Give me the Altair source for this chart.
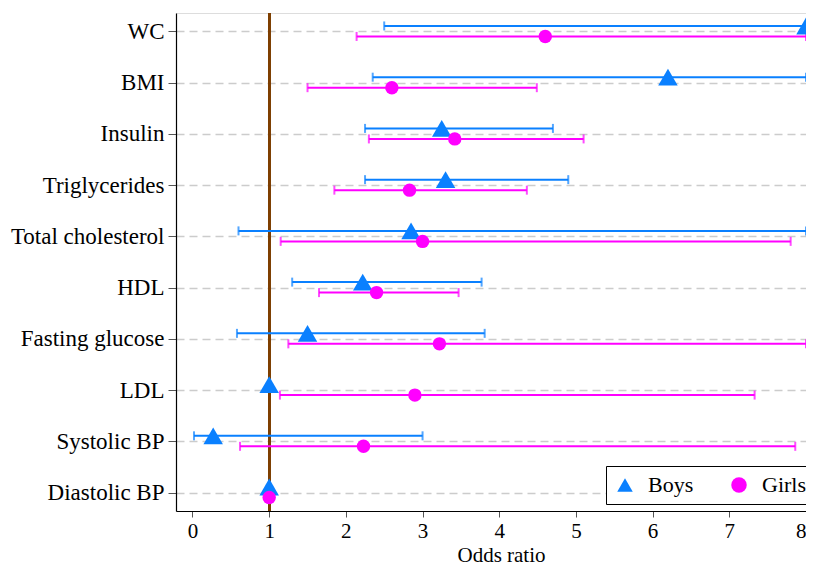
import altair as alt
import pandas as pd

categories = ["WC", "BMI", "Insulin", "Triglycerides", "Total cholesterol", "HDL",
              "Fasting glucose", "LDL", "Systolic BP", "Diastolic BP"]
boys_or = [8.0, 6.2, 3.25, 3.3, 2.85, 2.22, 1.5, 1.0, 0.27, 1.0]
boys_lo = [2.5, 2.35, 2.25, 2.25, 0.6, 1.3, 0.58, None, 0.02, None]
boys_hi = [8.0, 8.0, 4.7, 4.9, 8.0, 3.77, 3.81, None, 3.0, None]
girls_or = [4.6, 2.6, 3.42, 2.83, 3.0, 2.4, 3.22, 2.9, 2.23, 1.0]
girls_lo = [2.14, 1.5, 2.3, 1.85, 1.15, 1.65, 1.25, 1.14, 0.62, None]
girls_hi = [8.0, 4.49, 5.1, 4.36, 7.8, 3.47, 8.0, 7.33, 7.86, None]

groups = ["Boys", "Girls"]
colors = ["#0a80ff", "#ff00ff"]
shapes = ["triangle-up", "circle"]

rows = []
for i, c in enumerate(categories):
    rows.append(dict(cat=c, sex="Boys", est=boys_or[i], lo=boys_lo[i], hi=boys_hi[i]))
    rows.append(dict(cat=c, sex="Girls", est=girls_or[i], lo=girls_lo[i], hi=girls_hi[i]))
df = pd.DataFrame(rows)

FONT = "'Liberation Serif', 'Times New Roman', serif"
xscale = alt.Scale(domain=[-0.215, 8], nice=False, zero=False)
yscale = alt.Scale(type="point", domain=categories, padding=0.36)
cscale = alt.Scale(domain=groups, range=colors)
sscale = alt.Scale(domain=groups, range=shapes)

y_axis = alt.Axis(grid=True, gridDash=[8, 5], gridColor="#cccccc", gridWidth=1.6,
                  tickSize=8, tickColor="#555555", domainColor="#000000",
                  labelFont=FONT, labelFontSize=23, labelColor="#000000",
                  labelPadding=4, domainWidth=1.2)
x_axis = alt.Axis(values=list(range(0, 9)), format="d", grid=False, tickSize=6,
                  tickColor="#555555", domainColor="#000000", domainWidth=1.2,
                  labelFont=FONT, labelFontSize=21, labelColor="#000000",
                  labelPadding=3, titleFont=FONT, titleFontSize=21,
                  titleFontWeight="normal", titleColor="#000000", titlePadding=3,
                  titleX=325, titleAlign="center")

base = alt.Chart(df)

layers = []
layers.append(base.mark_point(opacity=0).encode(
    x=alt.X("est:Q", scale=xscale, title="Odds ratio", axis=x_axis),
    y=alt.Y("cat:N", scale=yscale, title=None, axis=y_axis)))
layers.append(base.mark_rule(color="#7f3f00", strokeWidth=2).encode(x=alt.datum(1)))

offsets = {"Boys": -5.5, "Girls": 5}
for g, col in zip(groups, colors):
    sub = base.transform_filter(alt.datum.sex == g).transform_filter("isValid(datum.lo)")
    layers.append(sub.mark_rule(color=col, strokeWidth=2, yOffset=offsets[g]).encode(
        x=alt.X("lo:Q", scale=xscale), x2="hi:Q", y=alt.Y("cat:N", scale=yscale)))
    layers.append(sub.mark_tick(color=col, orient="vertical", size=9, thickness=2,
                                yOffset=offsets[g]).encode(
        x=alt.X("lo:Q", scale=xscale), y=alt.Y("cat:N", scale=yscale)))
    layers.append(sub.mark_tick(color=col, orient="vertical", size=9, thickness=2,
                                yOffset=offsets[g]).encode(
        x=alt.X("hi:Q", scale=xscale), y=alt.Y("cat:N", scale=yscale)))

legend = alt.Legend(title=None, orient="none", legendX=430, legendY=453,
                    direction="horizontal", strokeColor="#000000",
                    padding=8, labelFont=FONT, labelFontSize=22,
                    labelColor="#000000", symbolSize=240,
                    symbolStrokeWidth=0, columnPadding=34,
                    labelOffset=12, fillColor="#ffffff")

for g in groups:
    sub = base.transform_filter(alt.datum.sex == g)
    layers.append(sub.mark_point(filled=True, opacity=1, size=380 if g == "Boys" else 180,
                                 yOffset=offsets[g], clip=False).encode(
        x=alt.X("est:Q", scale=xscale), y=alt.Y("cat:N", scale=yscale),
        color=alt.Color("sex:N", scale=cscale, legend=legend),
        shape=alt.Shape("sex:N", scale=sscale, legend=legend)))

chart = alt.layer(*layers).properties(
    width=630, height=498,
    autosize=alt.AutoSizeParams(type="none"),
    padding={"left": 168, "top": 5, "right": 0, "bottom": 52},
).configure_view(stroke=None).configure(background="white", font=FONT)

chart.save("out.html", embed_options={"renderer": "svg", "actions": False})
